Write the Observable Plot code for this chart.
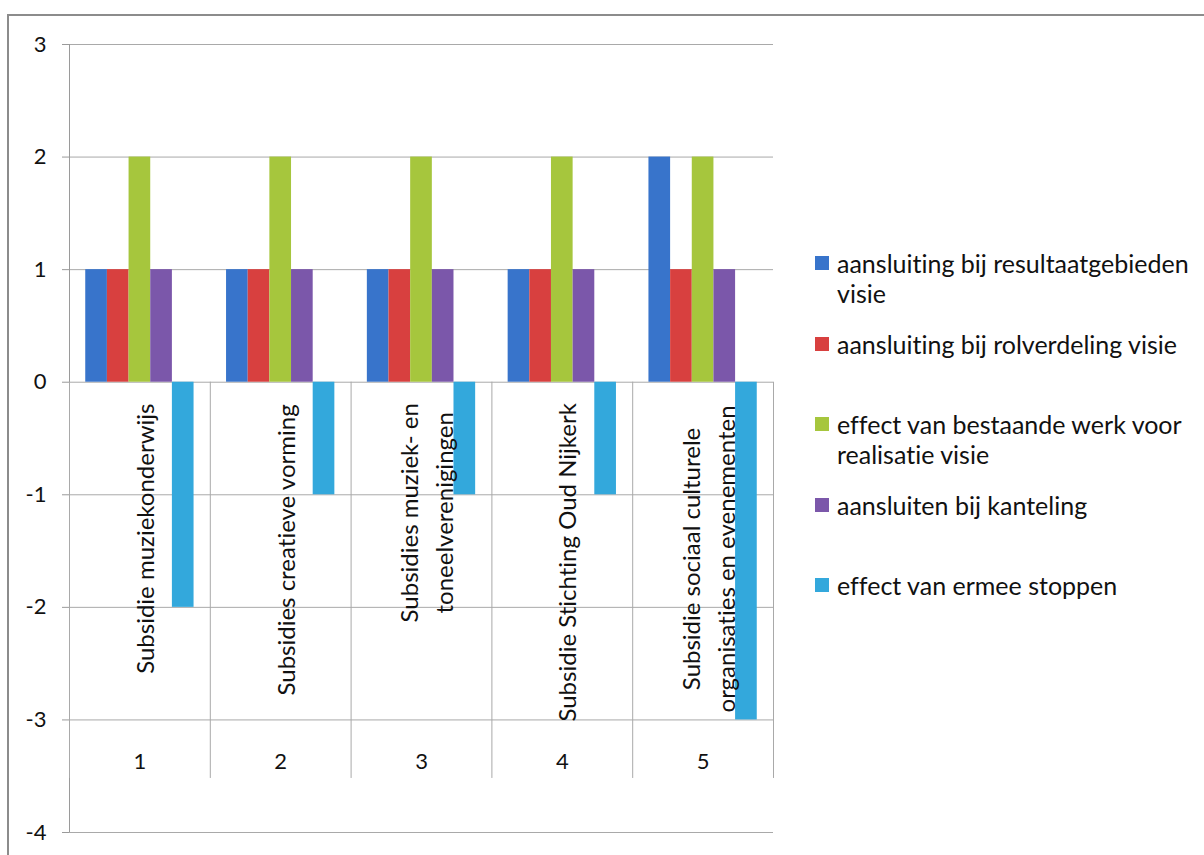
<!DOCTYPE html>
<html><head><meta charset="utf-8">
<script src="https://cdn.jsdelivr.net/npm/d3@7"></script>
<script src="https://cdn.jsdelivr.net/npm/@observablehq/plot@0.6"></script>
<style>
html,body{margin:0;padding:0;background:#fff;}
#wrap{position:relative;width:1204px;height:855px;overflow:hidden;font-family:Lato,sans-serif;color:#111;font-variant-ligatures:none;}
#wrap svg text{font-variant-ligatures:none;}
#frame{position:absolute;left:7px;top:14px;width:1400px;height:1000px;border-left:2px solid #8c8c8c;border-top:2px solid #8c8c8c;}
#chart{position:absolute;left:0;top:0;}
#legend{position:absolute;left:815px;top:248px;width:385px;}
.item{position:relative;height:80.5px;}
.sw{position:absolute;left:0;top:8px;width:14px;height:14px;}
.lab{position:absolute;left:22px;top:0;width:362px;font-size:25px;line-height:30px;}
</style>
</head><body>
<div id="wrap"><div id="frame"></div><div id="chart"></div><div id="legend"></div></div>
<script>
const categories = ["1", "2", "3", "4", "5"];
const subsidyLabels = [
  "Subsidie muziekonderwijs",
  "Subsidies creatieve vorming",
  "Subsidies muziek- en\ntoneelverenigingen",
  "Subsidie Stichting Oud Nijkerk",
  "Subsidie sociaal culturele\norganisaties en evenementen"
];
const subsidyLabelCenter = [-1.39, -1.49, -1.16, -1.60, -1.57];
const seriesNames = [
  "aansluiting bij resultaatgebieden visie",
  "aansluiting bij rolverdeling visie",
  "effect van bestaande werk voor realisatie visie",
  "aansluiten bij kanteling",
  "effect van ermee stoppen"
];
const seriesColors = ["#3874CB", "#D8403F", "#A6C63D", "#7B57AA", "#33A8DC"];
const resultaatgebieden = [1, 1, 1, 1, 2];
const rolverdeling = [1, 1, 1, 1, 1];
const bestaandeWerk = [2, 2, 2, 2, 2];
const kanteling = [1, 1, 1, 1, 1];
const ermeeStoppen = [-2, -1, -1, -1, -3];
const yTicks = [-4, -3, -2, -1, 0, 1, 2, 3];

const seriesValues = [resultaatgebieden, rolverdeling, bestaandeWerk, kanteling, ermeeStoppen];
const rows = categories.flatMap((c, i) =>
  seriesValues.map((vals, s) => ({cat: i, s, name: seriesNames[s], value: vals[i]})));

const slots = seriesNames.length + 1.5; // Excel gap width 150%
const boundaries = categories.map((c, i) => i).concat([categories.length]);

const chart = Plot.plot({
  width: 790, height: 855,
  marginLeft: 69, marginRight: 17, marginTop: 44, marginBottom: 23,
  style: {fontFamily: "Lato, sans-serif", fontSize: "22px", color: "#111", background: "transparent"},
  x: {domain: [0, categories.length], axis: null},
  y: {domain: [-4, 3]},
  color: {domain: seriesNames, range: seriesColors},
  marks: [
    Plot.gridY(yTicks, {stroke: "#a9a9a9", strokeOpacity: 1}),
    Plot.ruleX([0], {stroke: "#9a9a9a"}),
    Plot.ruleX(boundaries, {y1: 0, y2: -3.52, stroke: "#a9a9a9"}),
    Plot.axisY(yTicks, {label: null, tickSize: 7, tickPadding: 16, stroke: "#9a9a9a", fill: "#111", fontSize: 22, tickFormat: d => d}),
    Plot.rect(rows, {
      x1: d => d.cat + (0.75 + d.s) / slots,
      x2: d => d.cat + (1.75 + d.s) / slots,
      y1: 0, y2: "value", fill: "name"
    }),
    Plot.text(categories, {x: (d, i) => i + 0.5, y: -3.37, text: d => d, fontSize: 22, fill: "#111"}),
    Plot.text(subsidyLabels, {
      x: (d, i) => i + 0.5, y: (d, i) => subsidyLabelCenter[i], text: d => d,
      rotate: -90, textAnchor: "middle", lineAnchor: "middle", lineHeight: 1.45,
      fontSize: 24, fill: "#111", dx: 3
    })
  ]
});
document.getElementById("chart").appendChild(chart);

const legend = document.getElementById("legend");
seriesNames.forEach((n, i) => {
  const it = document.createElement("div"); it.className = "item";
  const sw = document.createElement("div"); sw.className = "sw"; sw.style.background = seriesColors[i];
  const lb = document.createElement("div"); lb.className = "lab"; lb.textContent = n;
  it.appendChild(sw); it.appendChild(lb); legend.appendChild(it);
});
</script>
</body></html>
